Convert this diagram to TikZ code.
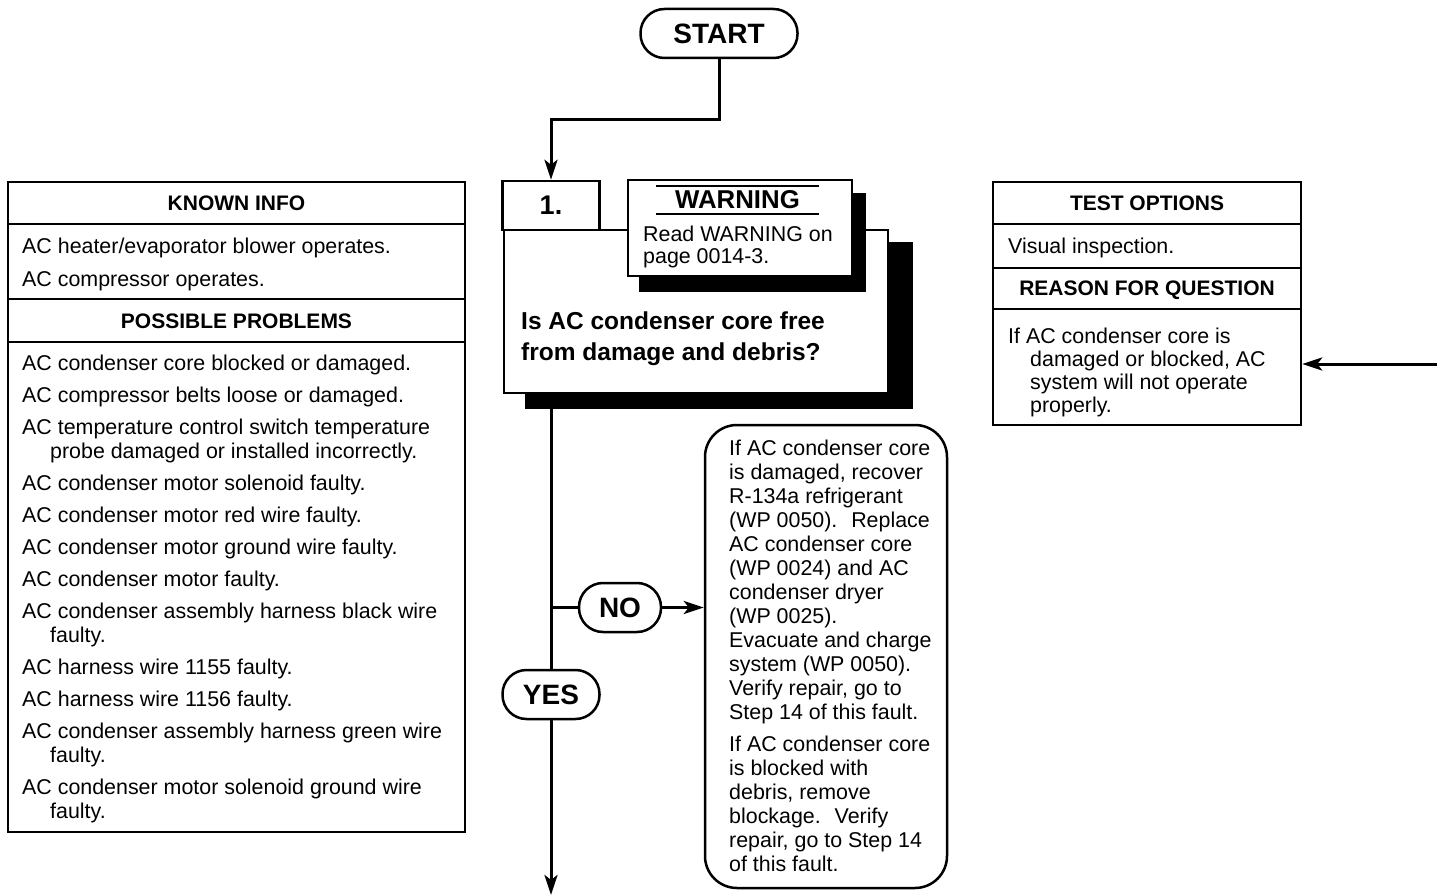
\documentclass[tikz,border=0pt]{standalone}
\usepackage{fontspec}
\setmainfont{Liberation Sans}
\usetikzlibrary{arrows.meta,calc}
\begin{document}
\begin{tikzpicture}[x=1pt,y=-1pt,
  every node/.style={inner sep=0pt},
  ln/.style={line width=2.5pt},
  conn/.style={line width=3pt},
  arr/.style={conn,-{Stealth[length=20pt,width=13pt,inset=5pt]}},
  body/.style={font=\fontsize{21.4}{24}\selectfont, anchor=base west},
  head/.style={font=\bfseries\fontsize{21}{24}\selectfont, anchor=base},
  pill/.style={draw, line width=2.5pt, fill=white, rounded corners=24pt, minimum height=49pt, font=\bfseries\fontsize{28}{30}\selectfont},
  frame/.style={draw, line width=2.5pt, fill=white},
  qtext/.style={font=\bfseries\fontsize{24.5}{28}\selectfont, anchor=base west},
]
\useasboundingbox (0,0) rectangle (1444,896);

% START
\node[pill, minimum width=157pt] (start) at (719,33.5) {START};

% KNOWN INFO box
\node[frame, minimum width=457pt, minimum height=650pt] (known) at (236.5,507) {};
\draw[ln] (8,224) -- (465,224);
\draw[ln] (8,299) -- (465,299);
\draw[ln] (8,342) -- (465,342);
\node[head] (kh) at (236.5,210.5) {KNOWN INFO};
\node[body] (k1) at (22,253.5) {AC heater/evaporator blower operates.};
\node[body] (k2) at (22,286.5) {AC compressor operates.};
\node[head] (ph) at (236.5,328.5) {POSSIBLE PROBLEMS};
\node[body] (p1) at (22,370.5) {AC condenser core blocked or damaged.};
\node[body] (p2) at (22,402.5) {AC compressor belts loose or damaged.};
\node[body] (p3) at (22,434.5) {AC temperature control switch temperature};
\node[body] (p3b) at (50,458.5) {probe damaged or installed incorrectly.};
\node[body] (p4) at (22,490.5) {AC condenser motor solenoid faulty.};
\node[body] (p5) at (22,522.5) {AC condenser motor red wire faulty.};
\node[body] (p6) at (22,554.5) {AC condenser motor ground wire faulty.};
\node[body] (p7) at (22,586.5) {AC condenser motor faulty.};
\node[body] (p8) at (22,618.5) {AC condenser assembly harness black wire};
\node[body] (p8b) at (50,642.5) {faulty.};
\node[body] (p9) at (22,674.5) {AC harness wire 1155 faulty.};
\node[body] (p10) at (22,706.5) {AC harness wire 1156 faulty.};
\node[body] (p11) at (22,738.5) {AC condenser assembly harness green wire};
\node[body] (p11b) at (50,762.5) {faulty.};
\node[body] (p12) at (22,794.5) {AC condenser motor solenoid ground wire};
\node[body] (p12b) at (50,818.5) {faulty.};

% TEST OPTIONS box
\node[frame, minimum width=308pt, minimum height=243pt] (test) at (1147,303.5) {};
\draw[ln] (993,224) -- (1301,224);
\draw[ln] (993,268) -- (1301,268);
\draw[ln] (993,309) -- (1301,309);
\node[head] (th) at (1147,210.5) {TEST OPTIONS};
\node[body] (t1) at (1008,253.5) {Visual inspection.};
\node[head] (rh) at (1147,295.5) {REASON FOR QUESTION};
\node[body] (r1) at (1008,343.5) {If AC condenser core is};
\node[body] (r2) at (1030,366.5) {damaged or blocked, AC};
\node[body] (r3) at (1030,389.5) {system will not operate};
\node[body] (r4) at (1030,412.5) {properly.};

% Step 1
\fill (525,242) rectangle (913,409);
\node[frame, minimum width=384pt, minimum height=163pt] (q1) at (696,311.5) {};
\node[frame, minimum width=97pt, minimum height=49pt, font=\bfseries\fontsize{27}{28}\selectfont] (n1) at (551,205.5) {1.};
\fill (639,193) rectangle (866,292);
\node[frame, minimum width=224pt, minimum height=96pt] (warn) at (740,228) {};
\node[font=\bfseries\fontsize{25.8}{28}\selectfont] (warnt) at (737.5,200) {WARNING};
\draw[ln] (656,186) -- (819,186);
\draw[ln] (656,214) -- (819,214);
\node[body] (w1) at (643,241.5) {Read WARNING on};
\node[body] (w2) at (643,263.5) {page 0014-3.};
\node[qtext] (qt1) at (521,330) {Is AC condenser core free};
\node[qtext] (qt2) at (521,360) {from damage and debris?};

% Fix box
\node[draw, line width=2.5pt, rounded corners=32pt, minimum width=242pt, minimum height=463pt] (fix) at (826,656.5) {};
\node[body] (f1) at (729,455.5) {If AC condenser core};
\node[body] (f2) at (729,479.5) {is damaged, recover};
\node[body] (f3) at (729,503.5) {R-134a refrigerant};
\node[body] (f4) at (729,527.5) {(WP 0050).~ Replace};
\node[body] (f5) at (729,551.5) {AC condenser core};
\node[body] (f6) at (729,575.5) {(WP 0024) and AC};
\node[body] (f7) at (729,599.5) {condenser dryer};
\node[body] (f8) at (729,623.5) {(WP 0025).};
\node[body] (f9) at (729,647.5) {Evacuate and charge};
\node[body] (f10) at (729,671.5) {system (WP 0050).};
\node[body] (f11) at (729,695.5) {Verify repair, go to};
\node[body] (f12) at (729,719.5) {Step 14 of this fault.};
\node[body] (g1) at (729,751.5) {If AC condenser core};
\node[body] (g2) at (729,775.5) {is blocked with};
\node[body] (g3) at (729,799.5) {debris, remove};
\node[body] (g4) at (729,823.5) {blockage.~ Verify};
\node[body] (g5) at (729,847.5) {repair, go to Step 14};
\node[body] (g6) at (729,871.5) {of this fault.};

% NO / YES
\node[pill, minimum width=82pt] (no) at (620,607.5) {NO};
\node[pill, minimum width=97pt] (yes) at (551,694.5) {YES};

% connectors
\coordinate (end) at (551,895);
\coordinate (rin) at (1437,364);
\draw[arr] (start.south) -- ++(0,60) -| (n1.north);
\draw[conn] (q1.south -| n1.south) -- (yes.north);
\draw[arr] (yes.south) -- (end);
\draw[conn] (no.west -| n1.south) -- (no.west);
\draw[arr] (no.east) -- (no.east -| fix.west);
\draw[arr] (rin) -- (rin -| test.east);
\end{tikzpicture}
\end{document}
